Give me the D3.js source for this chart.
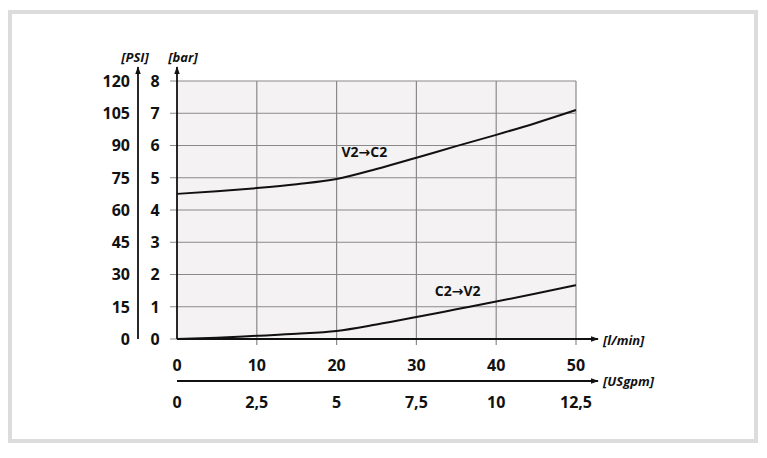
<!DOCTYPE html>
<html><head><meta charset="utf-8">
<script src="https://cdn.jsdelivr.net/npm/d3@7"></script>
<style>body{margin:0;background:#fff}svg{display:block}text{font-family:"Open Sans",sans-serif}</style>
</head><body>
<script>
const flowLmin = [0, 5, 10, 15, 20, 25, 30, 35, 40, 45, 50];
const v2c2Bar = [4.5, 4.58, 4.68, 4.8, 4.96, 5.27, 5.62, 5.98, 6.33, 6.7, 7.1];
const c2v2Bar = [0, 0.04, 0.1, 0.16, 0.25, 0.45, 0.68, 0.92, 1.16, 1.41, 1.67];
const xTicksLmin = [0, 10, 20, 30, 40, 50];
const xTicksUSgpm = ["0", "2,5", "5", "7,5", "10", "12,5"];
const yTicksBar = [0, 1, 2, 3, 4, 5, 6, 7, 8];
const yTicksPSI = [0, 15, 30, 45, 60, 75, 90, 105, 120];
const seriesLabels = [["V2", "C2"], ["C2", "V2"]];

const W = 767, H = 458;
const svg = d3.select("body").append("svg").attr("width", W).attr("height", H);
svg.append("defs").append("marker").attr("id","arr").attr("viewBox","0 0 10 10")
  .attr("refX",9).attr("refY",5).attr("markerWidth",8).attr("markerHeight",8)
  .attr("markerUnits","userSpaceOnUse").attr("orient","auto")
  .append("path").attr("d","M0,1.5L10,5L0,8.5Z").attr("fill","#111");

// frame
svg.append("rect").attr("x",10).attr("y",12).attr("width",746).attr("height",429)
  .attr("fill","#fff").attr("stroke","#dcdcdc").attr("stroke-width",4);

const x = d3.scaleLinear().domain([0,50]).range([177,576]);
const y = d3.scaleLinear().domain([0,8]).range([339,81]);

svg.append("rect").attr("x",x(0)).attr("y",y(8)).attr("width",x(50)-x(0)).attr("height",y(0)-y(8)).attr("fill","#f4f2f3");

svg.append("g").selectAll("line").data(yTicksBar).join("line")
  .attr("x1",170).attr("x2",x(50)).attr("y1",d=>y(d)).attr("y2",d=>y(d))
  .attr("stroke","#8a8a8a").attr("stroke-width",1.2);
svg.append("g").selectAll("line").data(xTicksLmin.slice(1)).join("line")
  .attr("x1",d=>x(d)).attr("x2",d=>x(d)).attr("y1",y(8)).attr("y2",345)
  .attr("stroke","#8a8a8a").attr("stroke-width",1.2);

svg.append("line").attr("x1",x(0)).attr("x2",x(0)).attr("y1",y(0)).attr("y2",67)
  .attr("stroke","#111").attr("stroke-width",1.8).attr("marker-end","url(#arr)");
svg.append("line").attr("x1",138).attr("x2",138).attr("y1",y(0)).attr("y2",67)
  .attr("stroke","#111").attr("stroke-width",1.8).attr("marker-end","url(#arr)");
svg.append("line").attr("x1",x(0)).attr("x2",598).attr("y1",y(0)).attr("y2",y(0))
  .attr("stroke","#111").attr("stroke-width",1.8).attr("marker-end","url(#arr)");
svg.append("line").attr("x1",x(0)).attr("x2",598).attr("y1",381).attr("y2",381)
  .attr("stroke","#111").attr("stroke-width",1.8).attr("marker-end","url(#arr)");

svg.append("g").selectAll("text").data(yTicksPSI).join("text")
  .attr("x",130).attr("y",(d,i)=>y(yTicksBar[i])).attr("dy","0.36em").attr("text-anchor","end")
  .attr("font-size",16).attr("font-weight","bold").attr("fill","#111").text(d=>d);
svg.append("g").selectAll("text").data(yTicksBar).join("text")
  .attr("x",155).attr("y",d=>y(d)).attr("dy","0.36em").attr("text-anchor","middle")
  .attr("font-size",16).attr("font-weight","bold").attr("fill","#111").text(d=>d);
svg.append("g").selectAll("text").data(xTicksLmin).join("text")
  .attr("x",d=>x(d)).attr("y",365).attr("dy","0.36em").attr("text-anchor","middle")
  .attr("font-size",16).attr("font-weight","bold").attr("fill","#111").text(d=>d);
svg.append("g").selectAll("text").data(xTicksUSgpm).join("text")
  .attr("x",(d,i)=>x(xTicksLmin[i])).attr("y",402).attr("dy","0.36em").attr("text-anchor","middle")
  .attr("font-size",16).attr("font-weight","bold").attr("fill","#111").text(d=>d);

const unit = (t,xx,yy,anchor)=>svg.append("text").attr("x",xx).attr("y",yy).attr("dy","0.36em")
  .attr("text-anchor",anchor).attr("font-size",13).attr("font-weight","bold").attr("font-style","italic")
  .attr("fill","#111").text(t);
unit("[PSI]",135,57,"middle");
unit("[bar]",183,57,"middle");
unit("[l/min]",603,340,"start");
unit("[USgpm]",603,381,"start");

const line = d3.line().x((d,i)=>x(flowLmin[i])).y(d=>y(d)).curve(d3.curveMonotoneX);
[v2c2Bar, c2v2Bar].forEach(s=>{
  svg.append("path").attr("d",line(s)).attr("fill","none").attr("stroke","#111").attr("stroke-width",2);
});
const seriesLabel = (parts, xx, yy)=>{
  const t = svg.append("text").attr("x",xx).attr("y",yy).attr("dy","0.36em").attr("font-size",14)
    .attr("font-weight","bold").attr("fill","#111");
  t.append("tspan").text(parts[0]);
  t.append("tspan").attr("font-family","DejaVu Sans").attr("font-weight","bold").attr("font-size",14).text("\u2192");
  t.append("tspan").text(parts[1]);
};
seriesLabel(seriesLabels[0], x(20.6), y(5.8));
seriesLabel(seriesLabels[1], x(32.3), y(1.5));
</script>
</body></html>
